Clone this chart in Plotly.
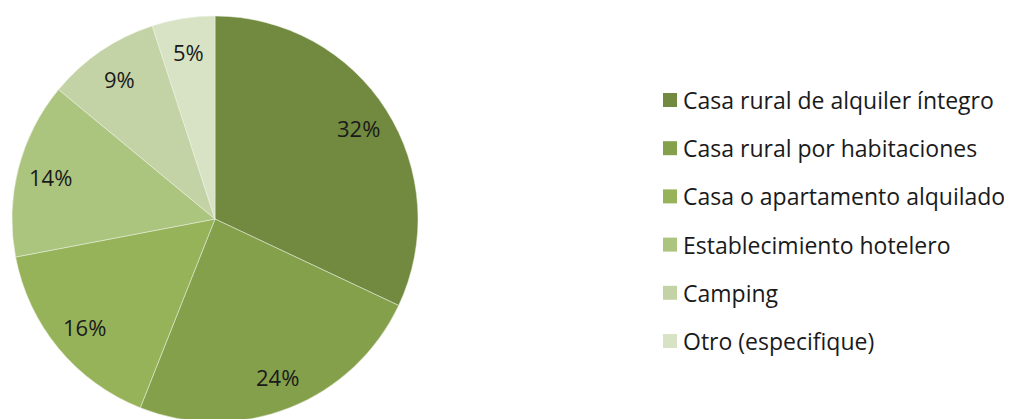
import math
import plotly.graph_objects as go

categories = [
    "Casa rural de alquiler íntegro",
    "Casa rural por habitaciones",
    "Casa o apartamento alquilado",
    "Establecimiento hotelero",
    "Camping",
    "Otro (especifique)",
]
values = [32, 24, 16, 14, 9, 5]
colors = ["#718a3f", "#84a04b", "#97b35a", "#abc47e", "#c3d3a5", "#d7e3c4"]

OFF = 8  # page body margin
W, H = 1012, 419
ML, MR, MT, MB = 12 - OFF, 0, 16 - OFF, 0
PW, PH = W - ML - MR, H - MT - MB
R = 203.0
cx_paper = R / PW
cy_paper = 1 - R / PH
FONT = "'Open Sans', sans-serif"
TXT = "#1a1a1a"

fig = go.Figure(go.Pie(
    labels=categories,
    values=values,
    sort=False,
    direction="clockwise",
    rotation=0,
    marker=dict(colors=colors, line=dict(color="#eef2e6", width=0.5)),
    textinfo="none",
    hoverinfo="label+percent",
    showlegend=False,
    domain=dict(x=[0, 2 * R / PW], y=[1 - 2 * R / PH, 1]),
))


def sx(px):  # screen px -> paper x
    return (px - OFF - ML) / PW


def sy(py):  # screen px -> paper y
    return 1 - (py - OFF - MT) / PH


annotations = []
total = sum(values)
cum = 0
for v in values:
    mid = (cum + v / 2) / total * 2 * math.pi
    cum += v
    r = 0.835 * R
    dx = r * math.sin(mid)
    dy = r * math.cos(mid)
    annotations.append(dict(
        x=cx_paper + dx / PW, y=cy_paper + dy / PH, xref="paper", yref="paper",
        xanchor="center", yanchor="middle",
        text=f"{round(v / total * 100)}%", showarrow=False,
        font=dict(family=FONT, size=22, color=TXT),
    ))

shapes = []
leg_x = 663
leg_y_first = 100
leg_step = 48.2
for i, (c, col) in enumerate(zip(categories, colors)):
    yc = leg_y_first + i * leg_step
    shapes.append(dict(
        type="rect", xref="paper", yref="paper",
        x0=sx(leg_x), x1=sx(leg_x + 14),
        y0=sy(yc + 7), y1=sy(yc - 7),
        fillcolor=col, line=dict(width=0),
    ))
    annotations.append(dict(
        x=sx(leg_x + 18), y=sy(yc), xref="paper", yref="paper",
        xanchor="left", yanchor="middle", text=c, showarrow=False,
        font=dict(family=FONT, size=23, color=TXT),
    ))

fig.update_layout(
    width=W, height=H,
    margin=dict(l=ML, r=MR, t=MT, b=MB),
    paper_bgcolor="white", plot_bgcolor="white",
    annotations=annotations, shapes=shapes,
    showlegend=False,
)
fig.write_html("out.html")
